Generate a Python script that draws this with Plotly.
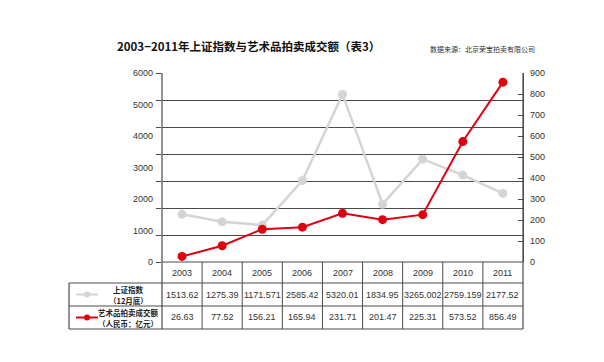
import plotly.graph_objects as go

years = ["2003", "2004", "2005", "2006", "2007", "2008", "2009", "2010", "2011"]
sh_index = [1513.62, 1275.39, 1171.571, 2585.42, 5320.01, 1834.95, 3265.002, 2759.159, 2177.52]
sh_labels = ["1513.62", "1275.39", "1171.571", "2585.42", "5320.01", "1834.95", "3265.002", "2759.159", "2177.52"]
art_sales = [26.63, 77.52, 156.21, 165.94, 231.71, 201.47, 225.31, 573.52, 856.49]
art_labels = ["26.63", "77.52", "156.21", "165.94", "231.71", "201.47", "225.31", "573.52", "856.49"]
left_ticks = [0, 1000, 2000, 3000, 4000, 5000, 6000]
right_ticks = [0, 100, 200, 300, 400, 500, 600, 700, 800, 900]

title = "2003−2011年上证指数与艺术品拍卖成交额（表3）"
source = "数据来源：北京荣宝拍卖有限公司"
row1 = ["上证指数", "（12月底）"]
row2 = ["艺术品拍卖成交额", "（人民币：亿元）"]

GRAY = "#d4d4d6"
RED = "#e00010"
LINE = "#4a4a4a"
FONT = "Liberation Sans, Arial, Noto Sans CJK SC"
CJK = "Noto Sans CJK SC, Liberation Sans"

xs = list(range(len(years)))

fig = go.Figure()
fig.add_trace(go.Scatter(x=[None], y=[None], yaxis="y3", showlegend=False, hoverinfo="skip"))
fig.add_trace(go.Scatter(x=xs, y=sh_index, mode="lines+markers", yaxis="y",
                         line=dict(color=GRAY, width=2.5),
                         marker=dict(size=9, color=GRAY), showlegend=False))
fig.add_trace(go.Scatter(x=xs, y=art_sales, mode="lines+markers", yaxis="y2",
                         line=dict(color=RED, width=2),
                         marker=dict(size=9, color=RED), showlegend=False))

# pixel geometry helpers (plot area 162..523 x, 73..262 y)
L, R, T, B = 162, 523, 73, 262
H = B - T
def py(p):
    return (B - p) / H
def px(p):
    return (p - L) / (R - L)

shapes = []
def hline(x0, x1, y, w=1):
    shapes.append(dict(type="line", xref="paper", yref="paper", x0=x0, x1=x1, y0=y, y1=y,
                       line=dict(color=LINE, width=w)))
def vline(x, y0, y1, xref="paper", w=1):
    shapes.append(dict(type="line", xref=xref, yref="paper", x0=x, x1=x, y0=y0, y1=y1,
                       line=dict(color=LINE, width=w)))

y_h = py(283)
y_r1 = py(306)
y_r2 = py(329)
x_tab = px(69)

hline(0, 1, 0, 1.2)
hline(x_tab, 1, y_h)
hline(x_tab, 1, y_r1)
hline(x_tab, 1, y_r2, 1.2)
vline(x_tab, y_h, y_r2, w=1.2)
vline(0, 1, y_r2, w=1.2)
vline(1, 1, y_r2, w=1.2)
for i in range(1, len(years)):
    vline(i - 0.5, 0, y_r2, xref="x")

# legend symbols in table
for yy, col in ((py(294.5), GRAY), (py(317.5), RED)):
    shapes.append(dict(type="line", xref="paper", yref="paper", x0=px(76), x1=px(98), y0=yy, y1=yy,
                       line=dict(color=col, width=2)))
    shapes.append(dict(type="circle", xref="paper", yref="paper",
                       x0=px(84), x1=px(90), y0=yy - 3 / H, y1=yy + 3 / H,
                       fillcolor=col, line=dict(color=col, width=0)))

ann = []
ann.append(dict(text="<b>" + title + "</b>", x=px(115), y=py(46), xref="paper", yref="paper",
                xanchor="left", yanchor="middle", showarrow=False,
                font=dict(family=CJK, size=11.5, color="#111")))
ann.append(dict(text=source, x=px(428), y=py(49), xref="paper", yref="paper",
                xanchor="left", yanchor="middle", showarrow=False,
                font=dict(family="Noto Sans CJK SC", size=7, color="#333")))
for i, yr in enumerate(years):
    ann.append(dict(text=yr, x=i, y=py(273), xref="x", yref="paper", showarrow=False,
                    xanchor="center", yanchor="middle", font=dict(family=FONT, size=9, color="#333")))
    ann.append(dict(text=sh_labels[i], x=i, y=py(295), xref="x", yref="paper", showarrow=False,
                    xanchor="center", yanchor="middle", font=dict(family=FONT, size=9, color="#333")))
    ann.append(dict(text=art_labels[i], x=i, y=py(317), xref="x", yref="paper", showarrow=False,
                    xanchor="center", yanchor="middle", font=dict(family=FONT, size=9, color="#333")))
for txt, yy in ((row1[0], 289.5), (row1[1], 300), (row2[0], 312), (row2[1], 323)):
    ann.append(dict(text="<b>" + txt + "</b>", x=px(128), y=py(yy), xref="paper", yref="paper",
                    showarrow=False, xanchor="center", yanchor="middle",
                    font=dict(family=CJK, size=7.5, color="#222")))

fig.update_layout(
    width=604, height=362,
    margin=dict(l=L, r=604 - R, t=T, b=362 - B),
    paper_bgcolor="white", plot_bgcolor="white",
    font=dict(family=FONT, size=9, color="#333"),
    xaxis=dict(range=[-0.5, len(years) - 0.5], showticklabels=False, ticks="",
               showgrid=False, zeroline=False, showline=False),
    yaxis=dict(range=[0, 6000], tickvals=left_ticks, ticktext=[str(v) for v in left_ticks],
               showgrid=False, zeroline=False, showline=False, ticks="",
               tickfont=dict(size=9, color="#333"), ticklabelstandoff=8),
    yaxis2=dict(range=[0, 900], overlaying="y", side="right", tickvals=right_ticks,
                ticktext=[str(v) for v in right_ticks], showgrid=False, zeroline=False,
                showline=True, linecolor=LINE, linewidth=1.2, ticks="inside", ticklen=5,
                tickcolor=LINE, tickfont=dict(size=9, color="#333"), ticklabelstandoff=4),
    yaxis3=dict(range=[0, 7], dtick=1, overlaying="y", side="left", showticklabels=False,
                showgrid=True, gridcolor=LINE, gridwidth=1, zeroline=False, showline=False,
                ticks="outside", ticklen=5, tickcolor=LINE),
    shapes=shapes, annotations=ann,
)

fig.write_html("out.html", config={"displayModeBar": False},
               post_script="document.body.style.margin='0px';document.body.style.padding='0px';")
